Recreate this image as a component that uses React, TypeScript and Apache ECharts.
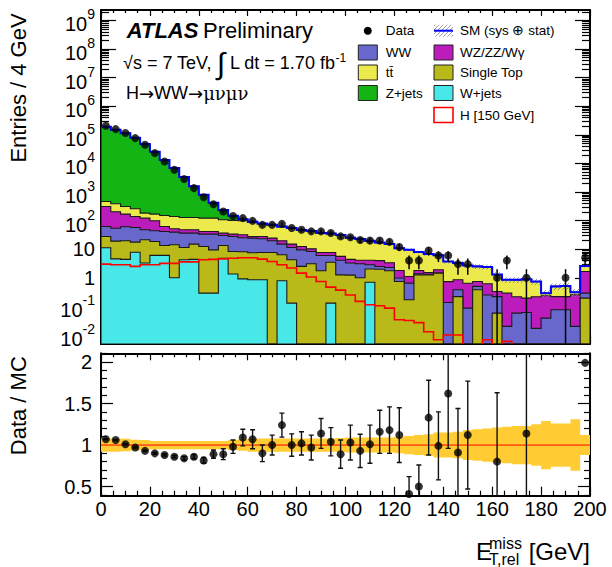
import React, { useEffect, useRef } from 'react';
import * as echarts from 'echarts';

const FONT = '"Liberation Sans", Arimo, Arial, Helvetica, sans-serif';

// Binning: 50 bins of 4 GeV, 0 - 200 GeV
const BIN_WIDTH = 4;
const X_MIN = 0;
const X_MAX = 200;
const X_TICK_STEP = 20;

// Observed data (entries / 4 GeV)
const dataCounts = [206000, 158000, 115000, 76700, 44700, 22900, 11650, 5970, 2820, 1370,
  653, 372, 208, 144, 122, 98, 71, 71, 77, 55,
  48, 42, 42, 37, 28, 26, 21, 20, 20, 18,
  12, 4, 4, 9, 6, 6, 3, 3, 0, 0,
  1, 4, 0, 1, 0, 0, 0, 1, 0, 5];

// Background components (stacked from W+jets at the bottom up to Z+jets)
const wJets = [11.2, 4.6, 4.4, 7.8, 3.3, 6.1, 6.1, 1.0, 4.3, 4.4,
  0.29, 0.29, 4.8, 1.35, 0.92, 0.85, 0.85, 0, 0.79, 0.13,
  0, 0, 0, 0.13, 0, 0, 0, 0.7, 0, 0,
  0, 0, 0, 0, 0, 0, 0, 0, 0, 0,
  0, 0, 0, 0, 0, 0, 0, 0, 0, 0];
const singleTop = [16.6, 14.6, 15.3, 9.9, 18, 12.5, 7.4, 13.3, 7.2, 10.7,
  12.1, 9.2, 8.7, 6.95, 7.2, 6.65, 6.85, 7.7, 5.6, 4.17,
  2.5, 3.1, 1.76, 3.37, 1.27, 1.24, 1.0, 1.33, 2.0, 1.76,
  0.74, 0.17, 1.27, 1.27, 1.46, 0, 0.22, 0, 0.38, 0,
  0.058, 0, 0, 0, 0, 0, 0, 0, 0, 0.195];
const ww = [34.4, 34.6, 41, 39.7, 26.4, 25.4, 28.1, 25.3, 25.1, 21.5,
  21.3, 24.2, 16.6, 19.5, 16.9, 16.9, 15.4, 12, 8.7, 7.2,
  7.0, 5.2, 4.24, 2.5, 2.83, 2.06, 2.1, 0.82, 0.48, 0.54,
  0.24, 0.48, 0.11, 0.05, 0.02, 0.137, 0.16, 0.087, 0.12, 0.25,
  0.162, 0.02, 0.058, 0.061, 0.017, 0.039, 0.076, 0.076, 0.02, 0.095];
const wzZzWg = [249, 149, 108, 81.6, 74.3, 54.4, 20.6, 12.1, 11.1, 11.1,
  7.9, 7.9, 6.5, 5.9, 6.9, 3.4, 4.7, 4.7, 4.6, 3.6,
  2.9, 2.0, 1.7, 1.7, 1.5, 1.1, 1.0, 1.25, 1.52, 1.05,
  0.82, 0.46, 0.42, 0.21, 0.42, 0.6, 0.47, 0.56, 0.24, 0.37,
  0.11, 0.27, 0.16, 0.134, 0.2, 0.196, 0.144, 0.144, 0.235, 1.37];
const ttbar = [154, 184, 142, 120, 61, 70.6, 88.8, 87.3, 80.3, 80.3,
  80.4, 80.4, 70.4, 68.3, 66.5, 59.2, 48.2, 44.6, 40.8, 38.7,
  33.6, 31.9, 28.7, 27.4, 25.5, 20.3, 18.2, 15.5, 13.0, 11.8,
  8.8, 8.4, 6.2, 5.27, 4.2, 2.96, 2.45, 2.05, 1.76, 1.78,
  0.97, 0.56, 0.63, 0.69, 0.52, 0.055, 0.28, 0.30, 0.055, 0.94];
const zJets = [192000, 148600, 113700, 78700, 47800, 25230, 13050, 6800, 3230, 1460,
  674, 296, 127, 45, 13.6, 5, 3, 2, 1.5, 1.2,
  1, 0.8, 0.6, 0.5, 0.4, 0.3, 0.3, 0.2, 0.2, 0.15,
  0.1, 0, 0, 0, 0, 0, 0, 0, 0, 0,
  0, 0, 0, 0, 0, 0, 0, 0, 0, 0];

// Signal: H [150 GeV] (not stacked)
const higgs150 = [3.0, 2.85, 2.85, 2.5, 2.85, 2.85, 3.2, 3.2, 3.6, 3.6,
  4.3, 4.4, 4.6, 4.8, 5.0, 5.0, 4.5, 3.7, 2.85, 2.2,
  1.46, 1.06, 0.74, 0.47, 0.37, 0.25, 0.15, 0.114, 0.105, 0.087,
  0.034, 0.032, 0.027, 0.013, 0.0068, 0.01, 0.01, 0.003, 0.003, 0.0068,
  0.004, 0.006, 0.002, 0.002, 0.002, 0.002, 0.002, 0.002, 0.002, 0.002];

// Relative SM uncertainty (sys + stat), per bin
const mcRelUncertainty = [0.08, 0.08, 0.075, 0.065, 0.06, 0.05, 0.05, 0.05, 0.05, 0.05,
  0.05, 0.05, 0.05, 0.06, 0.07, 0.08, 0.08, 0.08, 0.08, 0.08,
  0.08, 0.08, 0.08, 0.08, 0.085, 0.09, 0.09, 0.09, 0.09, 0.09,
  0.1, 0.11, 0.12, 0.13, 0.15, 0.15, 0.16, 0.18, 0.19, 0.2,
  0.21, 0.22, 0.23, 0.23, 0.25, 0.29, 0.26, 0.26, 0.31, 0.12];

// Data / MC ratio panel
const ratioValues = [1.07, 1.06, 1.01, 0.97, 0.93, 0.90, 0.88, 0.86, 0.84, 0.86,
  0.815, 0.89, 0.89, 0.98, 1.09, 1.07, 0.90, 1.00, 1.24, 1.00,
  1.02, 0.97, 1.14, 1.04, 0.89, 1.03, 0.93, 1.01, 1.16, 1.18,
  1.12, 0.41, 0.50, 1.33, 0.99, 1.62, 0.91, 1.12, null, null,
  0.80, null, null, 1.14, null, null, null, null, null, 1.99];
const ratioErrors = [0.005, 0.005, 0.006, 0.007, 0.008, 0.01, 0.012, 0.015, 0.02, 0.025,
  0.035, 0.05, 0.065, 0.08, 0.1, 0.115, 0.1, 0.12, 0.145, 0.135,
  0.14, 0.15, 0.18, 0.17, 0.17, 0.21, 0.2, 0.23, 0.26, 0.28,
  0.33, 0.21, 0.26, 0.45, 0.41, 0.66, 0.53, 0.65, 0, 0,
  0.83, 0, 0, 1.2, 0, 0, 0, 0, 0, 0];

// Axis ticks
const logDecadeTicks = [-2, -1, 0, 1, 2, 3, 4, 5, 6, 7, 8, 9];
const ratioTickLabels = [0.5, 1, 1.5, 2];

const Y_LOG_MIN = -2.315;
const Y_LOG_MAX = 9.364;
const RATIO_MIN = 0.39;
const RATIO_MAX = 2.105;

const TTBAR = 'tt\u0304';
const WZ = 'WZ/ZZ/W\u03b3';

const layers = [
  { name: 'W+jets', values: wJets, color: '#48e8e8' },
  { name: 'Single Top', values: singleTop, color: '#b9b91a' },
  { name: 'WW', values: ww, color: '#6767cc' },
  { name: WZ, values: wzZzWg, color: '#bb1cbb' },
  { name: TTBAR, values: ttbar, color: '#ebe94c' },
  { name: 'Z+jets', values: zJets, color: '#14b414' },
];

function buildOption() {
  const nBins = dataCounts.length;
  const lo = (i: number) => X_MIN + i * BIN_WIDTH;
  const hi = (i: number) => lo(i) + BIN_WIDTH;
  const mid = (i: number) => lo(i) + BIN_WIDTH / 2;
  const lgc = (v: number) => (v > 0 ? Math.max(Math.log10(v), Y_LOG_MIN) : Y_LOG_MIN);
  const lgu = (v: number) => (v > 0 ? Math.max(Math.log10(v), Y_LOG_MIN - 1) : Y_LOG_MIN - 1);

  const cumulative: number[][] = [];
  layers.forEach((layer, k) => {
    cumulative.push(layer.values.map((v, i) => v + (k > 0 ? cumulative[k - 1][i] : 0)));
  });
  const totalMC = cumulative[cumulative.length - 1];

  const yMinorTicks: number[] = [];
  for (let n = -3; n <= 9; n++) {
    for (let k = 2; k <= 9; k++) {
      const v = n + Math.log10(k);
      if (v > Y_LOG_MIN && v < Y_LOG_MAX) yMinorTicks.push(v);
    }
  }
  const ratioMinorTicks: number[] = [];
  for (let k = 4; k <= 21; k++) {
    const v = k / 10;
    if (k % 5 !== 0 && v > RATIO_MIN && v < RATIO_MAX) ratioMinorTicks.push(v);
  }

  const lineStyle = { color: '#000', width: 1.2 };
  const frame = { show: true, onZero: false, lineStyle: { color: '#000', width: 2 } };

  const xAxis = (gridIndex: number, position: string, labels: boolean, len: number, minorLen: number) => ({
    type: 'value', gridIndex, position, min: X_MIN, max: X_MAX, interval: X_TICK_STEP,
    axisLine: frame,
    axisTick: { show: true, inside: true, length: len, lineStyle },
    minorTick: { show: true, splitNumber: 4, length: minorLen, lineStyle },
    splitLine: { show: false },
    minorSplitLine: { show: false },
    axisLabel: labels
      ? { show: true, fontSize: 20, fontFamily: FONT, color: '#000', margin: 3, formatter: (v: number) => String(Math.round(v)) }
      : { show: false },
  });

  const logLabel = (v: number) => {
    const n = Math.round(v);
    if (n === 0) return '{n|1}';
    if (n === 1) return '{n|10}';
    return `{b|10}{s|${n}}`;
  };

  const yAxis = (gridIndex: number, position: string, min: number, max: number, ticks: number[], len: number,
    showLine: boolean, label: any) => ({
    type: 'value', gridIndex, position, min, max,
    axisLine: showLine ? frame : { show: false, onZero: false },
    axisTick: { show: true, inside: true, length: len, customValues: ticks, lineStyle },
    splitLine: { show: false },
    axisLabel: label || { show: false },
  });

  const topLabel = {
    show: true, customValues: logDecadeTicks, margin: 6, formatter: logLabel,
    rich: {
      n: { fontSize: 20, fontFamily: FONT, color: '#000' },
      b: { fontSize: 20, fontFamily: FONT, color: '#000', padding: [8, 0, 0, 0] },
      s: { fontSize: 14, fontFamily: FONT, color: '#000', padding: [0, 0, 12, 0] },
    },
  };
  const ratioLabel = {
    show: true, customValues: ratioTickLabels, margin: 9, fontSize: 20, fontFamily: FONT, color: '#000',
    formatter: (v: number) => String(+v.toFixed(2)),
  };

  const blk = '#000';

  // Hatched SM band + blue SM line
  const smRender = (params: any, api: any) => {
    const children: any[] = [];
    for (let i = 0; i < nBins; i++) {
      const t = totalMC[i];
      const b = mcRelUncertainty[i];
      const pTop = api.coord([lo(i), lgc(t * (1 + b))]);
      const pBot = api.coord([hi(i), lgc(t * (1 - b))]);
      const x0 = pTop[0], x1 = pBot[0], y0 = pTop[1], y1 = pBot[1];
      if (y1 - y0 >= 1.5) {
        for (let c = Math.ceil((x0 + y0) / 4) * 4; c <= x1 + y1; c += 4) {
          const xa = Math.max(x0, c - y1);
          const xb = Math.min(x1, c - y0);
          if (xb - xa > 0.3) {
            children.push({ type: 'line', shape: { x1: xa, y1: c - xa, x2: xb, y2: c - xb }, style: { stroke: '#808080', lineWidth: 0.8 } });
          }
        }
      }
    }
    const pts: number[][] = [];
    for (let i = 0; i < nBins; i++) {
      const y = lgc(totalMC[i]);
      pts.push(api.coord([lo(i), y]), api.coord([hi(i), y]));
    }
    children.push({ type: 'polyline', shape: { points: pts }, style: { stroke: '#0000ff', lineWidth: 2, fill: 'none' } });
    return { type: 'group', children };
  };

  const dataIdx = dataCounts.map((n, i) => i).filter((i) => dataCounts[i] > 0);
  const ratioIdx = ratioValues.map((r, i) => i).filter((i) => ratioValues[i] != null);

  const series: any[] = [
    {
      type: 'custom', name: 'stack', xAxisIndex: 0, yAxisIndex: 0, silent: true, clip: true, z: 2,
      data: layers.map((l, j) => [X_MIN, j]),
      renderItem: (params: any, api: any) => {
        const k = layers.length - 1 - params.dataIndex;
        const cum = cumulative[k];
        const pts: number[][] = [api.coord([X_MIN, Y_LOG_MIN])];
        for (let i = 0; i < nBins; i++) {
          const y = lgc(cum[i]);
          pts.push(api.coord([lo(i), y]), api.coord([hi(i), y]));
        }
        pts.push(api.coord([X_MAX, Y_LOG_MIN]));
        return { type: 'polygon', shape: { points: pts }, style: { fill: layers[k].color, stroke: '#1a1a1a', lineWidth: 1.1 } };
      },
    },
    {
      type: 'custom', name: 'SM', xAxisIndex: 0, yAxisIndex: 0, silent: true, clip: true, z: 3,
      data: [[X_MIN, 0]], renderItem: smRender,
    },
    {
      type: 'custom', name: 'H [150 GeV]', xAxisIndex: 0, yAxisIndex: 0, silent: true, clip: true, z: 4,
      data: [[X_MIN, 0]],
      renderItem: (params: any, api: any) => {
        const pts: number[][] = [];
        for (let i = 0; i < nBins; i++) {
          const y = lgu(higgs150[i]);
          pts.push(api.coord([lo(i), y]), api.coord([hi(i), y]));
        }
        return { type: 'polyline', shape: { points: pts }, style: { stroke: '#ff0000', lineWidth: 1.6, fill: 'none' } };
      },
    },
    {
      type: 'custom', name: 'data errors', xAxisIndex: 0, yAxisIndex: 0, silent: true, clip: true, z: 5,
      data: dataIdx.map((i) => [mid(i), Math.log10(dataCounts[i])]),
      renderItem: (params: any, api: any) => {
        const i = dataIdx[params.dataIndex];
        const n = dataCounts[i];
        const e = Math.sqrt(n);
        const p1 = api.coord([mid(i), lgc(n + e)]);
        const p2 = api.coord([mid(i), lgc(n - e)]);
        return { type: 'line', shape: { x1: p1[0], y1: p1[1], x2: p2[0], y2: p2[1] }, style: { stroke: blk, lineWidth: 1.5 } };
      },
    },
    {
      type: 'scatter', name: 'Data', xAxisIndex: 0, yAxisIndex: 0, silent: true, z: 6,
      symbol: 'circle', symbolSize: 8, itemStyle: { color: blk },
      data: dataIdx.map((i) => [mid(i), Math.log10(dataCounts[i])]),
    },
    // Ratio panel
    {
      type: 'custom', name: 'band', xAxisIndex: 2, yAxisIndex: 4, silent: true, clip: true, z: 1,
      data: [[X_MIN, 1]],
      renderItem: (params: any, api: any) => {
        const up: number[][] = [];
        const dn: number[][] = [];
        for (let i = 0; i < nBins; i++) {
          const b = mcRelUncertainty[i];
          up.push(api.coord([lo(i), 1 + b]), api.coord([hi(i), 1 + b]));
          dn.push(api.coord([lo(i), 1 - b]), api.coord([hi(i), 1 - b]));
        }
        return { type: 'polygon', shape: { points: up.concat(dn.reverse()) }, style: { fill: '#ffcc33', stroke: 'none' } };
      },
    },
    {
      type: 'custom', name: 'unity', xAxisIndex: 2, yAxisIndex: 4, silent: true, z: 2,
      data: [[X_MIN, 1]],
      renderItem: (params: any, api: any) => {
        const a = api.coord([X_MIN, 1]);
        const b = api.coord([X_MAX, 1]);
        return { type: 'line', shape: { x1: a[0], y1: a[1], x2: b[0], y2: b[1] }, style: { stroke: '#ff0000', lineWidth: 1 } };
      },
    },
    {
      type: 'custom', name: 'ratio errors', xAxisIndex: 2, yAxisIndex: 4, silent: true, clip: true, z: 3,
      data: ratioIdx.map((i) => [mid(i), ratioValues[i]]),
      renderItem: (params: any, api: any) => {
        const i = ratioIdx[params.dataIndex];
        const r = ratioValues[i] as number;
        const e = ratioErrors[i];
        if (!e) return null;
        const p1 = api.coord([mid(i), r + e]);
        const p2 = api.coord([mid(i), r - e]);
        const w = 2.5;
        const st = { stroke: '#111', lineWidth: 1.4 };
        return {
          type: 'group', children: [
            { type: 'line', shape: { x1: p1[0], y1: p1[1], x2: p2[0], y2: p2[1] }, style: st },
            { type: 'line', shape: { x1: p1[0] - w, y1: p1[1], x2: p1[0] + w, y2: p1[1] }, style: st },
            { type: 'line', shape: { x1: p2[0] - w, y1: p2[1], x2: p2[0] + w, y2: p2[1] }, style: st },
          ],
        };
      },
    },
    {
      type: 'scatter', name: 'Ratio', xAxisIndex: 2, yAxisIndex: 4, silent: true, z: 4,
      symbol: 'circle', symbolSize: 8, itemStyle: { color: blk },
      data: ratioIdx.map((i) => [mid(i), ratioValues[i]]),
    },
  ];

  // Graphic texts and legend
  const txt = (x: number, y: number, text: string, fontSize: number, extra: any = {}, rotation = 0) => ({
    type: 'text', x, y, rotation, silent: true,
    style: {
      text, fontSize, fontFamily: FONT, fill: '#000',
      align: 'left', verticalAlign: 'middle', textAlign: 'left', textVerticalAlign: 'middle', ...extra,
    },
  });

  const legendFont = 13.5;
  const rows = [30.7, 52.5, 72.5, 93, 115];
  const colL = { box: 358.3, text: 385.7 };
  const colR = { box: 434, text: 460 };
  const boxW = 19, boxH = 15;
  const legendBox = (x: number, yc: number, fill: string, stroke = '#222', lw = 1) => ({
    type: 'rect', silent: true, shape: { x, y: yc - boxH / 2, width: boxW, height: boxH },
    style: { fill, stroke, lineWidth: lw },
  });

  const hatchLines: any[] = [];
  {
    const x0 = colR.box, x1 = colR.box + boxW, y0 = rows[0] - 6, y1 = rows[0] + 6;
    for (let c = Math.ceil((x0 + y0) / 4) * 4; c <= x1 + y1; c += 4) {
      const xa = Math.max(x0, c - y1);
      const xb = Math.min(x1, c - y0);
      if (xb - xa > 0.3) hatchLines.push({ type: 'line', silent: true, shape: { x1: xa, y1: c - xa, x2: xb, y2: c - xb }, style: { stroke: '#888', lineWidth: 0.8 } });
    }
  }

  const layerColor = (n: string) => layers.find((l) => l.name === n)!.color;
  const center = { align: 'center', textAlign: 'center' };
  const richTok = (fontSize: number, fontFamily = FONT, extra: any = {}) => ({ fontSize, fontFamily, fill: '#000', color: '#000', ...extra });

  const graphic: any[] = [
    txt(126.7, 30, 'ATLAS', 22, { fontWeight: 'bold', fontStyle: 'italic' }),
    txt(203, 30, 'Preliminary', 22),
    {
      type: 'text', x: 123, y: 63, silent: true,
      style: {
        text: '{a|\u221as = 7 TeV, }{i|\u222b}{a| L dt = 1.70 fb}{s|-1}',
        fontFamily: FONT, fill: '#000', align: 'left', verticalAlign: 'middle', textAlign: 'left', textVerticalAlign: 'middle',
        rich: {
          a: richTok(18),
          i: richTok(30),
          s: richTok(12, FONT, { padding: [0, 0, 10, 0] }),
        },
      },
    },
    {
      type: 'text', x: 126, y: 93.3, silent: true,
      style: {
        text: '{a|H}{r|\u2192}{a|WW}{r|\u2192}{g|\u03bc\u03bd\u03bc\u03bd}',
        fontFamily: FONT, fill: '#000', align: 'left', verticalAlign: 'middle', textAlign: 'left', textVerticalAlign: 'middle',
        rich: {
          a: richTok(18),
          r: richTok(18, '"DejaVu Sans", sans-serif'),
          g: richTok(18, '"DejaVu Serif", "Liberation Serif", serif'),
        },
      },
    },
    // axis titles
    txt(18, 88, 'Entries / 4 GeV', 22, center, Math.PI / 2),
    txt(18, 405.7, 'Data / MC', 22, center, Math.PI / 2),
    txt(476, 551, 'E', 24),
    txt(489, 543, 'miss', 16),
    txt(489, 559, 'T,rel', 16),
    txt(590, 551, '[GeV]', 24, { align: 'right', textAlign: 'right' }),
    // legend
    { type: 'circle', silent: true, shape: { cx: colL.box + boxW / 2, cy: rows[0], r: 4 }, style: { fill: '#000' } },
    txt(colL.text, rows[0], 'Data', legendFont),
    ...hatchLines,
    { type: 'line', silent: true, shape: { x1: colR.box, y1: rows[0], x2: colR.box + boxW, y2: rows[0] }, style: { stroke: '#0000ff', lineWidth: 2 } },
    txt(colR.text, rows[0], 'SM (sys \u2295 stat)', legendFont),
    legendBox(colL.box, rows[1], layerColor('WW')),
    txt(colL.text, rows[1], 'WW', legendFont),
    legendBox(colR.box, rows[1], layerColor(WZ)),
    txt(colR.text, rows[1], WZ, legendFont),
    legendBox(colL.box, rows[2], layerColor(TTBAR)),
    txt(colL.text, rows[2], TTBAR, legendFont),
    legendBox(colR.box, rows[2], layerColor('Single Top')),
    txt(colR.text, rows[2], 'Single Top', legendFont),
    legendBox(colL.box, rows[3], layerColor('Z+jets')),
    txt(colL.text, rows[3], 'Z+jets', legendFont),
    legendBox(colR.box, rows[3], layerColor('W+jets')),
    txt(colR.text, rows[3], 'W+jets', legendFont),
    legendBox(colR.box, rows[4], '#ffffff', '#ff0000', 1.6),
    txt(colR.text, rows[4], 'H [150 GeV]', legendFont),
  ];

  return {
    animation: false,
    backgroundColor: '#ffffff',
    grid: [
      { left: 101, top: 10, width: 489, height: 334 },
      { left: 101, top: 353.3, width: 489, height: 142.4 },
    ],
    xAxis: [
      xAxis(0, 'bottom', false, 9, 5),
      xAxis(0, 'top', false, 6, 3),
      xAxis(1, 'bottom', true, 9, 5),
      xAxis(1, 'top', false, 7, 4),
    ],
    yAxis: [
      yAxis(0, 'left', Y_LOG_MIN, Y_LOG_MAX, logDecadeTicks, 15, true, topLabel),
      yAxis(0, 'left', Y_LOG_MIN, Y_LOG_MAX, yMinorTicks, 8, false, null),
      yAxis(0, 'right', Y_LOG_MIN, Y_LOG_MAX, logDecadeTicks, 15, true, null),
      yAxis(0, 'right', Y_LOG_MIN, Y_LOG_MAX, yMinorTicks, 8, false, null),
      yAxis(1, 'left', RATIO_MIN, RATIO_MAX, ratioTickLabels, 12, true, ratioLabel),
      yAxis(1, 'left', RATIO_MIN, RATIO_MAX, ratioMinorTicks, 6, false, null),
      yAxis(1, 'right', RATIO_MIN, RATIO_MAX, ratioTickLabels, 12, true, null),
      yAxis(1, 'right', RATIO_MIN, RATIO_MAX, ratioMinorTicks, 6, false, null),
    ],
    series,
    graphic,
  };
}

export default function App() {
  const ref = useRef<HTMLDivElement>(null);
  useEffect(() => {
    document.body.style.margin = '0';
    const chart = echarts.init(ref.current as HTMLDivElement, null, { renderer: 'svg' });
    chart.setOption(buildOption() as any);
    return () => chart.dispose();
  }, []);
  return <div ref={ref} style={{ width: 612, height: 567 }} />;
}
